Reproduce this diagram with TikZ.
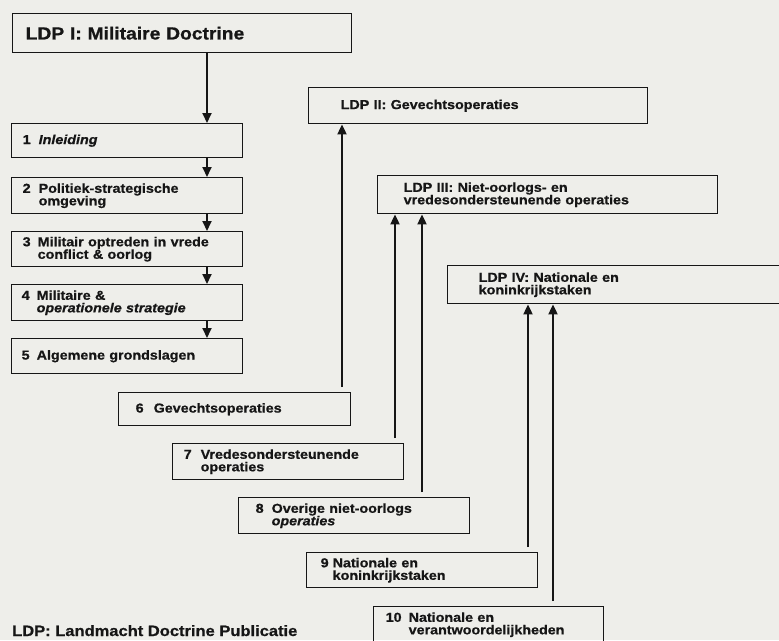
\documentclass[tikz,border=0pt]{standalone}
\usepackage{fontspec}
\usetikzlibrary{arrows.meta}
\newfontfamily\lsf[FakeStretch=1.1, BoldFeatures={FakeBold=0.8}, BoldItalicFeatures={FakeBold=0.8}]{Liberation Sans}
\definecolor{paper}{RGB}{238,238,234}
\definecolor{ink}{RGB}{22,22,22}
\newcommand\nb[2]{\makebox[#1pt][l]{#2}}
\begin{document}
\begin{tikzpicture}[x=1pt,y=-1pt,
  bx/.style={draw=ink, line width=1.4pt, anchor=north west, inner ysep=0pt,
    align=left, text=ink, font=\lsf\bfseries\fontsize{13}{12.5}\selectfont},
  ttl/.style={bx, font=\lsf\bfseries\fontsize{17.5}{18}\selectfont},
  arr/.style={draw=ink, line width=1.9pt, -{Triangle[length=10pt,width=9pt]}},
  up/.style={arr, shorten <=5pt}]
\fill[paper] (0,0) rectangle (779,640);
\useasboundingbox (0,0) rectangle (779,640);
\clip (0,0) rectangle (779,640);
% column coordinates
\coordinate (ax) at (207,0);
\coordinate (c2) at (342,0);
\coordinate (c3a) at (395,0);
\coordinate (c3b) at (422,0);
\coordinate (c4a) at (528,0);
\coordinate (c4b) at (553,0);
% LDP I column
\node[ttl, inner xsep=13pt, text width=313pt, minimum height=39pt] (ldp1) at (12,13) {LDP I: Militaire Doctrine};
\node[bx, inner xsep=11pt, text width=209pt, minimum height=34pt] (b1) at (11,123) {\nb{16}{1}\textit{Inleiding}};
\node[bx, inner xsep=11pt, text width=209pt, minimum height=36pt] (b2) at (11,177) {\nb{16}{2}Politiek-strategische\\\hspace*{16pt}omgeving};
\node[bx, inner xsep=11pt, text width=209pt, minimum height=35pt] (b3) at (11,231) {\nb{15}{3}Militair optreden in vrede\\\hspace*{15pt}conflict \& oorlog};
\node[bx, inner xsep=10pt, text width=211pt, minimum height=36pt] (b4) at (11,284) {\nb{15}{4}Militaire \&\\\hspace*{15pt}\textit{operationele strategie}};
\node[bx, inner xsep=10pt, text width=211pt, minimum height=35pt] (b5) at (11,338) {\nb{15}{5}Algemene grondslagen};
% LDP II-IV
\node[bx, inner xsep=32pt, text width=275pt, minimum height=36pt] (ldp2) at (308,87) {LDP II: Gevechtsoperaties};
\node[bx, inner xsep=26pt, text width=288pt, minimum height=38pt] (ldp3) at (377,175) {LDP III: Niet-oorlogs- en\\vredesondersteunende operaties};
\node[bx, inner xsep=31pt, text width=281pt, minimum height=38pt] (ldp4) at (447,265) {LDP IV: Nationale en\\koninkrijkstaken};
% staircase
\node[bx, inner xsep=17pt, text width=198pt, minimum height=33pt] (b6) at (118,392) {\nb{18}{6}Gevechtsoperaties};
\node[bx, inner xsep=11pt, text width=209pt, minimum height=36pt] (b7) at (172,443) {\nb{17}{7}Vredesondersteunende\\\hspace*{17pt}operaties};
\node[bx, inner xsep=17pt, text width=197pt, minimum height=36pt] (b8) at (238,497) {\nb{16}{8}Overige niet-oorlogs\\\hspace*{16pt}\textit{operaties}};
\node[bx, inner xsep=14pt, text width=203pt, minimum height=35pt] (b9) at (306,552) {\nb{12}{9}Nationale en\\\hspace*{12pt}koninkrijkstaken};
\node[bx, inner xsep=12pt, text width=206pt, minimum height=36pt] (b10) at (373,606) {\nb{23}{10}Nationale en\\\hspace*{23pt}verantwoordelijkheden};
% footer
\node[anchor=base west, inner sep=0pt, text=ink, font=\lsf\bfseries\fontsize{15}{16}\selectfont] (foot) at (12,636) {LDP: Landmacht Doctrine Publicatie};
% down arrows
\draw[arr] (ldp1.south -| ax) -- (b1.north -| ax);
\draw[arr] (b1.south -| ax) -- (b2.north -| ax);
\draw[arr] (b2.south -| ax) -- (b3.north -| ax);
\draw[arr] (b3.south -| ax) -- (b4.north -| ax);
\draw[arr] (b4.south -| ax) -- (b5.north -| ax);
% up arrows
\draw[up] (b6.north -| c2) -- (ldp2.south -| c2);
\draw[up] (b7.north -| c3a) -- (ldp3.south -| c3a);
\draw[up] (b8.north -| c3b) -- (ldp3.south -| c3b);
\draw[up] (b9.north -| c4a) -- (ldp4.south -| c4a);
\draw[up] (b10.north -| c4b) -- (ldp4.south -| c4b);
\end{tikzpicture}
\end{document}
